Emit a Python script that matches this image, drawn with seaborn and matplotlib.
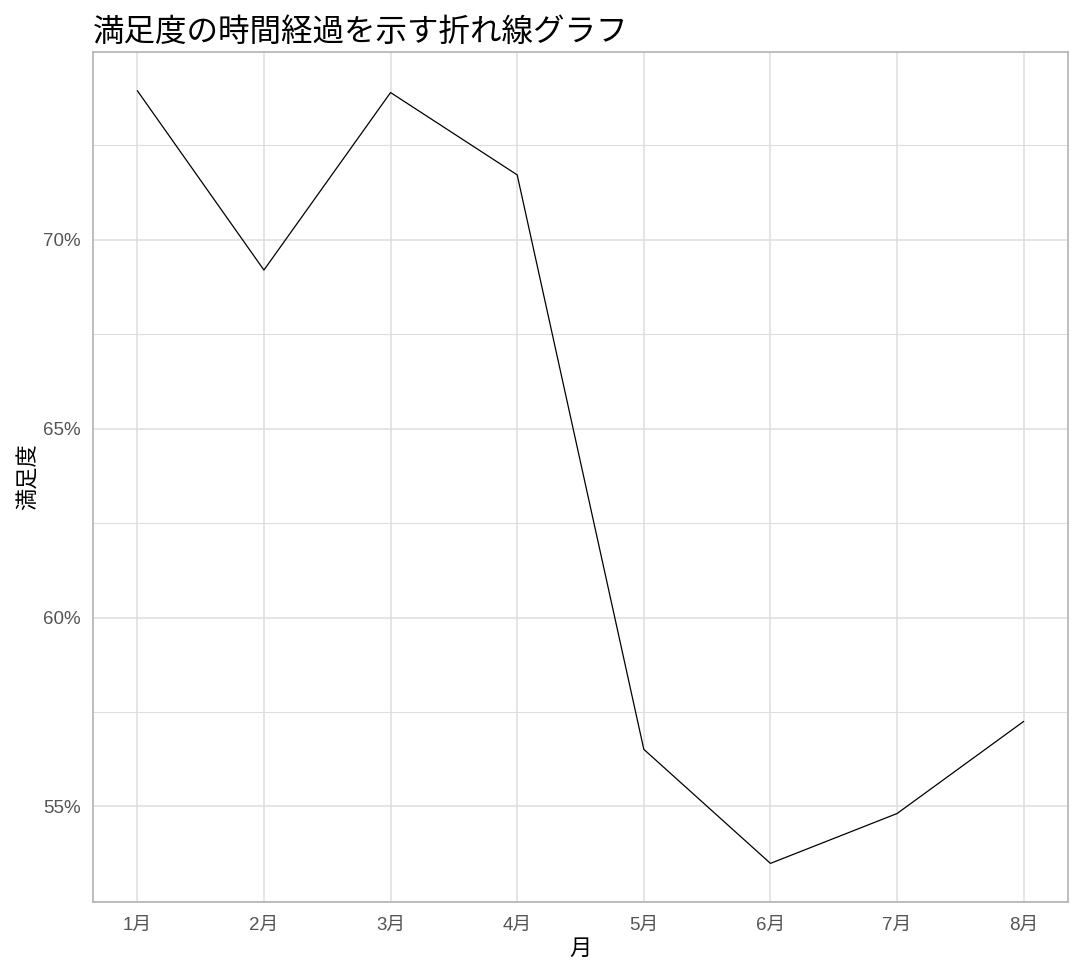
import matplotlib
matplotlib.use("Agg")
import matplotlib.pyplot as plt
import seaborn as sns
import pandas as pd
from matplotlib.ticker import PercentFormatter, MultipleLocator, FixedLocator

# Data
months = [1, 2, 3, 4, 5, 6, 7, 8]
month_labels = ["1月", "2月", "3月", "4月", "5月", "6月", "7月", "8月"]
satisfaction = [0.7395, 0.6920, 0.7390, 0.7172, 0.5651, 0.5349, 0.5481, 0.5725]

df = pd.DataFrame({"month": months, "satisfaction": satisfaction})

sns.set_style("whitegrid")
plt.rcParams['font.family'] = ['Liberation Sans', 'Noto Sans CJK JP', 'DejaVu Sans']

fig = plt.figure(figsize=(10.8, 9.76), dpi=100)
ax = fig.add_axes([0.0861, 0.0758, 0.9028, 0.8709])

sns.lineplot(data=df, x="month", y="satisfaction", color="black", linewidth=0.9, ax=ax)

ax.margins(x=0.05, y=0.05)
ax.xaxis.set_major_locator(FixedLocator(months))
ax.set_xticklabels(month_labels)
ax.yaxis.set_major_locator(MultipleLocator(0.05))
ax.yaxis.set_minor_locator(MultipleLocator(0.025))
ax.yaxis.set_major_formatter(PercentFormatter(1.0, decimals=0))

ax.grid(which="major", color="#dedede", linewidth=1.1)
ax.grid(which="minor", axis="y", color="#dedede", linewidth=0.8)
for s in ax.spines.values():
    s.set_color("#b3b3b3")
    s.set_linewidth(1.2)

ax.tick_params(axis="both", which="major", length=5, width=1, color="#b3b3b3",
               labelcolor="#555555", labelsize=13.5, pad=4)
ax.tick_params(axis="x", which="major", pad=6)
ax.tick_params(axis="both", which="minor", length=0)

ax.set_xlabel("月", fontsize=16, labelpad=3, color="black")
ax.set_ylabel("満足度", fontsize=16, labelpad=2, color="black")
ax.set_title("満足度の時間経過を示す折れ線グラフ", loc="left", fontsize=22.7, pad=8,
             color="black", family=['Noto Sans CJK JP', 'DejaVu Sans'])

plt.savefig("out.png", dpi=100)
